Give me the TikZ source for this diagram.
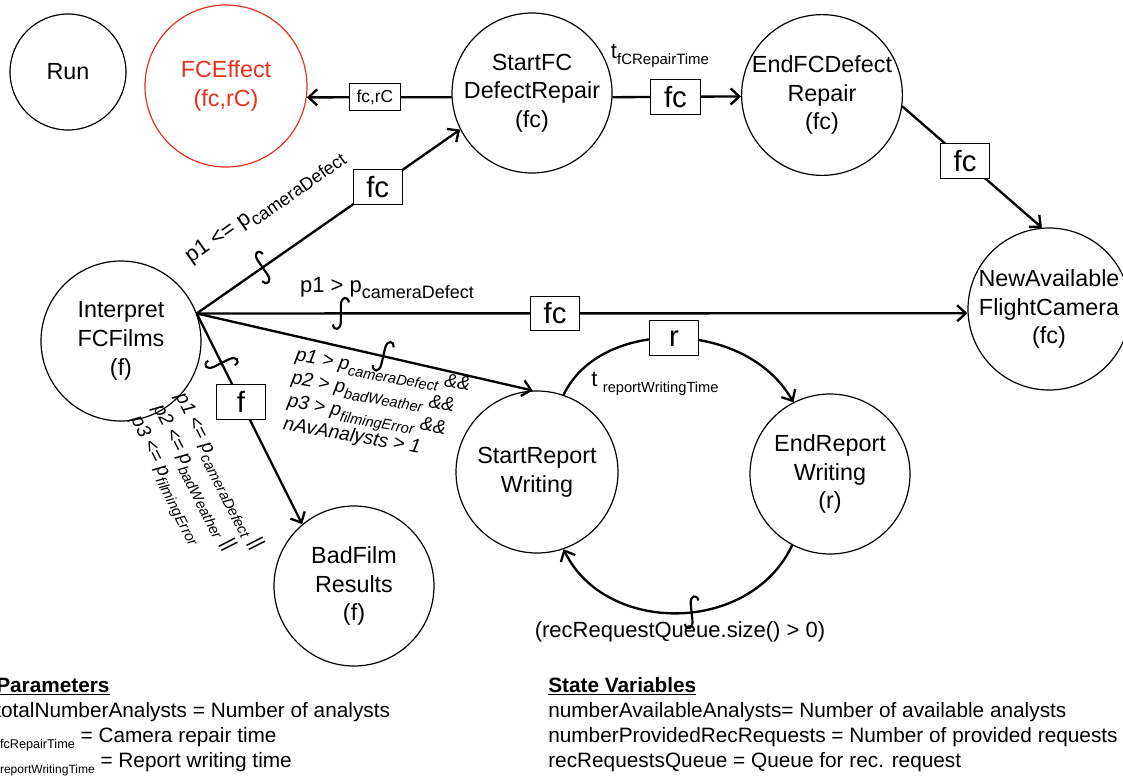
\documentclass[tikz,border=0pt]{standalone}
\usepackage{fontspec}
\setmainfont{Liberation Sans}
\usetikzlibrary{arrows.meta}

% lowered index text, size given as first argument
\newcommand\lowtext[2]{\raisebox{-0.3em}{\fontsize{#1}{#1}\selectfont #2}}

\definecolor{effectred}{RGB}{232,48,30}

\tikzset{
  evnode/.style={circle, draw, line width=0.9pt, inner sep=0pt, minimum size=120pt,
                 align=center, font=\fontsize{17.5}{21.5}\selectfont},
  conn/.style={line width=1.75pt, -{Straight Barb[length=6.5pt,width=12pt]}},
  tokbox/.style={draw, fill=white, line width=0.7pt, minimum width=37pt, minimum height=26pt,
                 inner sep=1pt, font=\fontsize{22}{22}\selectfont},
  lbl/.style={inner sep=0pt, font=\fontsize{16.5}{19}\selectfont},
  ilbl/.style={inner sep=0pt, align=left, font=\fontsize{14.5}{17.5}\selectfont\itshape},
  legend/.style={inner sep=0pt, anchor=base west, font=\fontsize{15.6}{18}\selectfont},
  squig/.pic={\draw[line width=1.6pt, -] (8,-11) .. controls (7,-18) and (0,-17) .. (0,-8)
              -- (0,8) .. controls (0,17) and (-7,18) .. (-8,11);}
}

\begin{document}
\begin{tikzpicture}[x=0.75pt, y=-0.75pt]
\useasboundingbox (0,0) rectangle (1123,775);

% events
\node[evnode, minimum size=87pt] (run) at (68,72) {Run};
\node[evnode, minimum size=121.5pt, draw=effectred, text=effectred] (fce) at (226,86) {FCEffect\\(fc,rC)};
\node[evnode] (sfc) at (532,93) {StartFC\\DefectRepair\\(fc)};
\node[evnode] (efc) at (822,95) {EndFCDefect\\Repair\\(fc)};
\node[evnode, minimum size=121.5pt] (nafc) at (1049,309) {NewAvailable\\FlightCamera\\(fc)};
\node[evnode] (ifilm) at (121,341) {Interpret\\FCFilms\\(f)};
\node[evnode] (bad) at (354,586) {BadFilm\\Results\\(f)};
\node[evnode, minimum size=121.5pt] (srw) at (537,472) {StartReport\\Writing};
\node[evnode] (erw) at (830,474) {EndReport\\Writing\\(r)};

% scheduling edges
\draw[conn] (sfc.183) -- node[tokbox, pos=0.53, minimum width=38pt, minimum height=20pt,
  font=\fontsize{13}{13}\selectfont] (bx1) {fc,rC} (fce.-8);
\draw[conn] (sfc.-3) -- node[tokbox, pos=0.49] (bx2) {fc} (efc.181.5);
\draw[conn] (efc.-8) -- node[tokbox, pos=0.45] (bx3) {fc} (nafc.95);

\draw[conn] (ifilm.20) -- pic[pos=0.25, sloped]{squig}
  node[tokbox, pos=0.687] (bx4) {fc} (sfc.207);
\draw[conn] (ifilm.20) -- pic[pos=0.187, sloped]{squig}
  node[tokbox, pos=0.465] (bx5) {fc} (nafc.183);
\draw[conn] (ifilm.20) -- pic[pos=0.555, sloped]{squig} (srw.93);
\draw[conn] (ifilm.20) -- pic[pos=0.235, sloped]{squig}
  node[tokbox, pos=0.42] (bx6) {f} (bad.130);

\draw[conn] (srw.71) .. controls (600,318) and (745,318) ..
  node[tokbox, pos=0.5] (bx7) {r} (erw.117);
\draw[conn] (erw.242) .. controls (750,635) and (605,635) ..
  pic[pos=0.45, sloped]{squig} (srw.-71);

% edge conditions and delays
\node[lbl, rotate=35] (c1) at (265,207) {p1 <= p\lowtext{13.5pt}{cameraDefect}};
\node[lbl] (c2) at (387,288) {p1 > p\lowtext{13.5pt}{cameraDefect}};
\node[ilbl, rotate=-10, anchor=north west] (c3) at (297,347)
  {p1 > p\lowtext{11pt}{cameraDefect} \&\&\\
   p2 > p\lowtext{11pt}{badWeather} \&\&\\
   p3 > p\lowtext{11pt}{filmingError} \&\&\\
   nAvAnalysts > 1};
\node[ilbl, rotate=-63, anchor=north west, font=\fontsize{14.5}{18.75}\selectfont\itshape] (c4) at (188,390)
  {p1 <= p\lowtext{11pt}{cameraDefect} ||\\
   p2 <= p\lowtext{11pt}{badWeather} ||\\
   p3 <= p\lowtext{11pt}{filmingError}};
\node[lbl] (t1) at (660,56) {t\lowtext{11.25pt}{fCRepairTime}};
\node[lbl] (t2) at (655,384) {t\hspace{4pt}\lowtext{11pt}{reportWritingTime}};
\node[lbl] (c5) at (680,632) {(recRequestQueue.size() > 0)};

% legend
\node[legend] (p0) at (-4,692) {\underline{\textbf{Parameters}}};
\node[legend] (p1) at (-5,717) {totalNumberAnalysts = Number of analysts};
\node[legend] (p2) at (-6,742) {t\lowtext{9.5pt}{fcRepairTime} = Camera repair time};
\node[legend] (p3) at (-6,767) {t\lowtext{9pt}{reportWritingTime} = Report writing time};

\node[legend] (s0) at (548,692) {\underline{\textbf{State Variables}}};
\node[legend] (s1) at (548,717) {numberAvailableAnalysts= Number of available analysts};
\node[legend] (s2) at (548,742) {numberProvidedRecRequests = Number of provided requests};
\node[legend] (s3) at (548,767) {recRequestsQueue = Queue for rec. request};
\end{tikzpicture}
\end{document}
